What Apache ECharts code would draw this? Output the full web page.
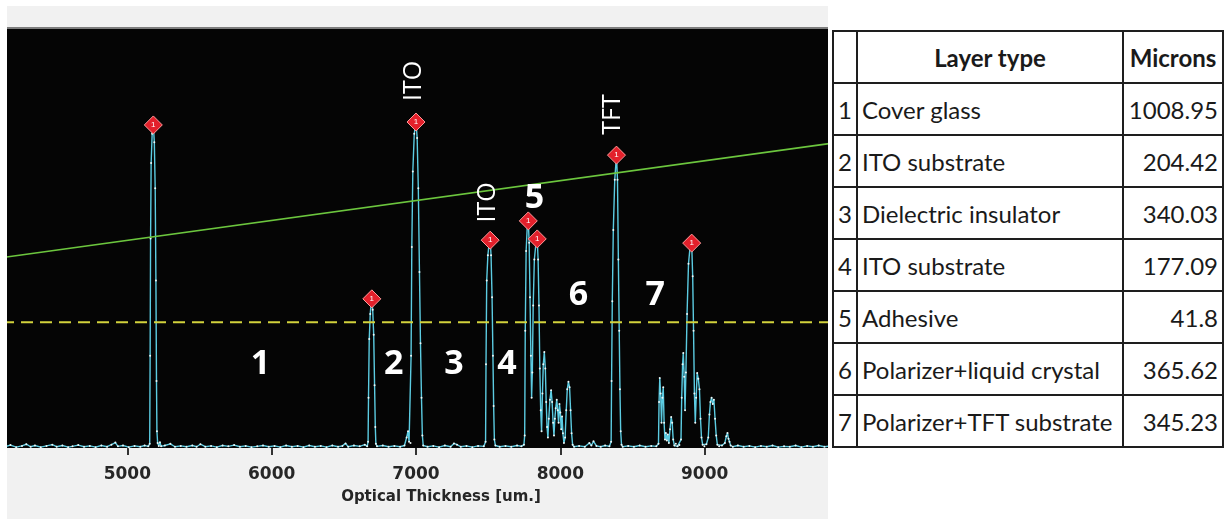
<!DOCTYPE html>
<html>
<head>
<meta charset="utf-8">
<script src="https://cdn.jsdelivr.net/npm/echarts@6/dist/echarts.min.js"></script>
<style>
html,body{margin:0;padding:0;background:#fff;width:1225px;height:519px;overflow:hidden;}
#wrap{position:absolute;left:7px;top:6px;width:821px;height:513px;overflow:hidden;background:#f1f1f1;}
#topline{position:absolute;left:0;top:21px;width:821px;height:2px;background:#7d7d7d;}
#chart{position:absolute;left:-40px;top:0;width:920px;height:513px;}
#tbl{position:absolute;left:832px;top:30px;border-collapse:collapse;table-layout:fixed;width:390px;
  font-family:Lato,'Open Sans',sans-serif;font-size:24px;color:#1a1a1a;}
#tbl td,#tbl th{border:2px solid #1e1e1e;padding:0;white-space:nowrap;overflow:hidden;}
#tbl tr{height:52px;}
#tbl th{font-weight:bold;text-align:center;}
#tbl td.n{text-align:center;}
#tbl td.t{text-align:left;padding-left:4px;}
#tbl td.m{text-align:right;padding-right:4px;}
</style>
</head>
<body>
<div id="wrap"><div id="topline"></div><div id="chart"></div></div>
<table id="tbl">
  <colgroup><col style="width:24px"><col style="width:266px"><col style="width:100px"></colgroup>
  <thead><tr><th></th><th>Layer type</th><th>Microns</th></tr></thead>
  <tbody id="tbody"></tbody>
</table>
<script>
// ---- axis ----
const xMin = 4000, xMax = 10000, xStep = 1000;
const xAxisTitle = 'Optical Thickness [um.]';

// ---- spectrum trace [optical thickness, amplitude] ----
const spectrum = [
  [4000,0.3],[4040,0.6],[4070,0.2],[4110,0.5],[4150,0.3],[4190,0.7],[4230,0.2],[4270,0.5],[4300,0.9],[4330,0.3],
  [4360,0.6],[4400,0.2],[4440,0.5],[4480,0.8],[4510,0.3],[4550,0.6],[4590,0.2],[4620,0.4],[4660,0.7],[4700,0.3],
  [4740,0.5],[4780,0.2],[4820,0.6],[4860,0.3],[4890,0.8],[4917,1.3],[4935,0.4],[4970,0.6],[5010,0.2],[5050,0.5],
  [5090,0.3],[5120,0.6],[5145,0.4],
  [5155,1.0],[5158,22],[5161,50],[5165,68],[5172,75],[5180,77.1],[5187,73],[5193,62],[5198,40],[5202,16],[5205,4],
  [5210,1.2],[5218,0.5],[5226,1.4],[5234,0.4],
  [5260,0.6],[5298,1.0],[5330,0.3],[5370,0.5],[5410,0.3],[5450,0.6],[5480,0.3],[5506,0.9],[5540,0.3],[5580,0.5],
  [5620,0.2],[5660,0.6],[5700,0.4],[5740,0.7],[5780,0.3],[5820,0.5],[5860,0.2],[5900,0.4],[5940,0.6],[5980,0.3],
  [6020,0.5],[6060,0.2],[6100,0.6],[6140,0.3],[6180,0.5],[6220,0.2],[6260,0.6],[6300,0.3],[6340,0.5],[6380,0.2],
  [6420,0.6],[6460,0.3],[6490,0.5],[6512,1.1],[6530,0.3],[6570,0.6],[6610,0.4],[6645,0.8],[6662,0.4],
  [6668,1.5],[6671,12],[6676,26],[6683,32],[6688,34],[6694,35.6],[6700,33],[6707,27],[6713,15],[6718,5],[6722,1.0],
  [6730,0.4],[6770,0.6],[6810,0.3],[6850,0.5],[6890,0.3],[6920,0.6],[6935,2.5],[6945,4],[6952,1.5],
  [6962,1.2],[6966,22],[6971,48],[6978,66],[6988,75],[7000,77.8],[7008,74],[7016,62],[7024,42],[7031,25],[7038,12],
  [7044,3],[7050,0.6],
  [7080,0.3],[7120,0.5],[7160,0.2],[7200,0.6],[7240,0.3],[7263,1.1],[7284,0.8],[7310,0.3],[7350,0.5],[7390,0.2],
  [7430,0.5],[7470,0.4],
  [7482,1.5],[7485,20],[7490,40],[7498,46],[7507,49],[7514,49.6],[7520,46],[7527,36],[7533,22],[7538,10],[7543,2],
  [7550,0.6],[7580,0.3],[7620,0.5],[7660,0.3],[7700,0.6],[7730,0.4],[7748,0.8],
  [7753,3],[7757,28],[7763,47],[7771,53],[7778,54.2],[7784,49],[7790,36],[7796,22],[7801,12],[7806,18],[7812,34],
  [7820,45],[7830,48.5],[7840,49.9],[7846,45],[7852,34],[7858,19],[7864,9],[7870,4],[7876,13],[7882,20],[7889,22.9],
  [7896,19],[7902,11],[7908,5],[7914,2.5],[7920,7],[7928,11.5],[7936,13.8],[7943,11],[7950,6],[7956,3],[7962,7],
  [7968,9.5],[7975,11.5],[7982,9],[7988,6],[7994,10.5],[8000,8.5],[8006,4.5],[8012,7.5],[8018,3.5],[8025,1.2],
  [8033,2.5],[8041,9],[8048,14],[8056,15.8],[8064,14.5],[8071,9],[8078,3.5],[8085,0.8],[8095,0.3],
  [8130,0.5],[8170,0.3],[8201,1.2],[8215,0.6],[8230,1.6],[8250,0.5],[8280,0.3],[8310,0.6],[8340,0.4],
  [8352,1.5],[8355,16],[8360,35],[8367,52],[8377,64],[8389,69.9],[8396,64],[8402,45],[8408,28],[8413,14],[8418,4],
  [8424,0.8],[8432,0.3],
  [8470,0.5],[8510,0.3],[8550,0.6],[8590,0.3],[8630,0.5],[8665,0.4],
  [8680,1.0],[8684,11],[8689,16.7],[8695,13],[8701,6],[8707,12],[8713,14.5],[8719,6],[8725,2],[8731,3.6],[8738,1.8],
  [8745,3.2],[8752,1.2],[8760,4.5],[8768,7.4],[8775,6],[8782,2],[8790,0.6],[8800,1.0],[8812,0.4],[8825,0.7],
  [8836,2],[8841,12],[8847,20],[8852,22.7],[8858,17],[8864,9],[8870,18],[8878,32],[8888,44],[8899,48],[8910,48.9],
  [8917,41],[8923,28],[8929,13],[8935,6],[8941,12],[8948,17.9],[8956,16.5],[8964,14],[8971,7],[8978,2.5],[8986,0.8],
  [8998,0.4],[9012,0.9],[9025,2.5],[9033,8],[9040,11],[9048,12],[9056,10.5],[9064,11.5],[9072,7],[9080,3],[9088,0.8],
  [9100,0.4],[9120,0.6],[9140,1.2],[9150,2.8],[9158,3.6],[9165,2.2],[9172,1.5],[9180,0.6],[9195,0.3],
  [9230,0.6],[9270,0.3],[9310,0.5],[9350,0.2],[9390,0.5],[9430,0.3],[9470,0.6],[9510,0.2],[9550,0.4],[9590,0.3],
  [9630,0.6],[9670,0.2],[9710,0.5],[9750,0.3],[9790,0.6],[9830,0.3],[9870,0.5],[9910,0.2],[9950,0.4],[10000,0.3]
];

// ---- detected peaks (red markers) ----
const peakX = [5180, 6694, 7000, 7514, 7778, 7840, 8389, 8910];
const peakY = [77.1, 35.6, 77.8, 49.6, 54.2, 49.9, 69.9, 48.9];

// ---- threshold lines ----
const thresholdX = [4000, 10000];
const thresholdY = [44.8, 73.3];
const levelX = [4000, 10000];
const levelY = [30.0, 30.0];

// ---- annotations ----
const regionText = ['1', '2', '3', '4', '5', '6', '7'];
const regionX = [5922, 6845, 7263, 7631, 7820, 8125, 8658];
const regionY = [20, 20, 20, 20, 59.7, 36.5, 36.5];
const layerText = ['ITO', 'ITO', 'TFT'];
const layerX = [6986, 7495, 8367];
const layerY = [87.6, 58.6, 79.6];

// ---- table ----
const layerNums = [1, 2, 3, 4, 5, 6, 7];
const layerTypes = ['Cover glass', 'ITO substrate', 'Dielectric insulator', 'ITO substrate', 'Adhesive',
  'Polarizer+liquid crystal', 'Polarizer+TFT substrate'];
const microns = [1008.95, 204.42, 340.03, 177.09, 41.8, 365.62, 345.23];

const tb = document.getElementById('tbody');
layerNums.forEach((n, i) => {
  const tr = document.createElement('tr');
  tr.innerHTML = '<td class="n">' + n + '</td><td class="t">' + layerTypes[i] + '</td><td class="m">' + microns[i] + '</td>';
  tb.appendChild(tr);
});

const chart = echarts.init(document.getElementById('chart'), null, { renderer: 'canvas' });
const zip = (xs, ys) => xs.map((x, i) => [x, ys[i]]);

chart.setOption({
  animation: false,
  backgroundColor: 'transparent',
  grid: { left: 16, width: 866, top: 23, height: 419, show: true, backgroundColor: '#050505', borderWidth: 0, containLabel: false, outerBoundsMode: 'none' },
  xAxis: {
    type: 'value', min: xMin, max: xMax, interval: xStep, offset: 3,
    axisLine: { show: false },
    axisTick: { show: true, length: 7, lineStyle: { color: '#333', width: 2 } },
    splitLine: { show: false },
    axisLabel: { showMinLabel: false, showMaxLabel: false, margin: 15, color: '#262626',
      formatter: v => String(v),
      fontFamily: 'DejaVu Sans', fontWeight: 'bold', fontSize: 17 },
    name: xAxisTitle, nameLocation: 'middle', nameGap: 39,
    nameTextStyle: { color: '#262626', fontFamily: 'DejaVu Sans', fontWeight: 'bold', fontSize: 15, padding: [0, 0, 0, 50] }
  },
  yAxis: { type: 'value', min: 0, max: 100, show: false, splitLine: { show: false } },
  series: [
    {
      type: 'line', data: spectrum, z: 2, silent: true,
      symbol: 'circle', symbolSize: 2, showAllSymbol: true,
      lineStyle: { color: '#5ccce2', width: 1.4 },
      itemStyle: { color: '#eef8f8' }
    },
    {
      type: 'line', data: zip(thresholdX, thresholdY), z: 3, silent: true, symbol: 'none',
      lineStyle: { color: '#6cc63e', width: 1.6 }
    },
    {
      type: 'line', data: zip(levelX, levelY), z: 3, silent: true, symbol: 'none',
      lineStyle: { color: '#d2d23c', width: 2, type: [12, 7] }
    },
    {
      type: 'scatter', data: zip(peakX, peakY), z: 5, silent: true,
      symbol: 'diamond', symbolSize: 18,
      itemStyle: { color: '#e3202b', borderColor: '#ff9a9a', borderWidth: 1, opacity: 1 },
      label: { show: true, position: 'inside', formatter: '1', color: '#fff', fontSize: 8, opacity: 1 }
    },
    {
      type: 'scatter', z: 6, silent: true, symbolSize: 1,
      data: regionText.map((t, i) => ({ name: t, value: [regionX[i], regionY[i]] })),
      itemStyle: { color: 'rgba(0,0,0,0)', opacity: 1 },
      label: { show: true, position: 'inside', formatter: '{b}', color: '#ffffff', opacity: 1,
        fontFamily: 'Open Sans', fontWeight: 'bold', fontSize: 34 }
    },
    {
      type: 'scatter', z: 6, silent: true, symbolSize: 1,
      data: layerText.map((t, i) => ({ name: t, value: [layerX[i], layerY[i]] })),
      itemStyle: { color: 'rgba(0,0,0,0)', opacity: 1 },
      label: { show: true, position: 'inside', formatter: '{b}', rotate: 90, color: '#ffffff', opacity: 1,
        fontFamily: 'Open Sans', fontWeight: 'normal', fontSize: 25 }
    }
  ]
});
</script>
</body>
</html>
